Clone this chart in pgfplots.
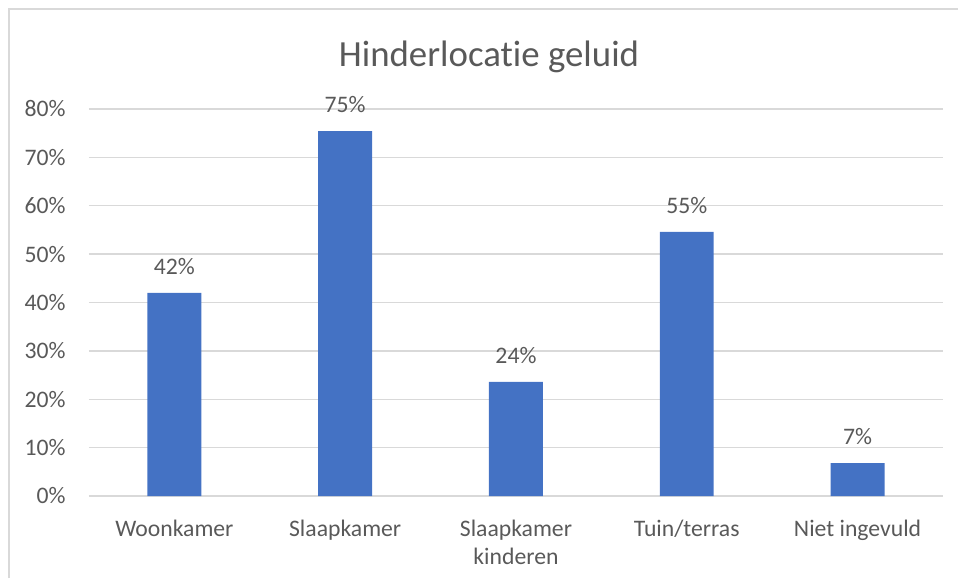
\documentclass[border=0pt]{standalone}
\usepackage{pgfplots}
\pgfplotsset{compat=1.18}
\usepackage{fontspec}
\setmainfont{Carlito}[Ligatures={NoCommon,NoDiscretionary}]
\definecolor{txtc}{HTML}{595959}
\definecolor{gridc}{HTML}{D9D9D9}
\definecolor{barc}{HTML}{4472C4}
\begin{document}
\begin{tikzpicture}
\begin{axis}[
  at={(0,0)}, anchor=south west,
  scale only axis,
  width=324.5pt, height=147.1pt,
  xmin=-0.5, xmax=4.5, ymin=0, ymax=80,
  ybar, bar width=20.5pt,
  xtick=data,
  xticklabels={Woonkamer, Slaapkamer, {Slaapkamer\\kinderen}, Tuin/terras, Niet ingevuld},
  ytick={0,10,...,80},
  yticklabel={\pgfmathprintnumber{\tick}\%},
  /pgf/number format/assume math mode=true,
  major tick length=0pt,
  axis line style={draw=none},
  xmajorgrids=false, ymajorgrids=true,
  major grid style={draw=gridc, line width=0.55pt},
  tick label style={font=\fontsize{9}{10.6}\selectfont, text=txtc},
  xticklabel style={align=center, anchor=north, yshift=-5.6pt},
  yticklabel style={anchor=east, xshift=-5.4pt},
  nodes near coords={\pgfmathprintnumber[fixed,precision=0]{\pgfplotspointmeta}\%},
  every node near coord/.append style={font=\fontsize{9}{10.6}\selectfont, text=txtc, anchor=south, yshift=3.4pt},
]
\addplot[fill=barc, draw=none] coordinates {(0,42) (1,75.4) (2,23.6) (3,54.6) (4,6.8)};
\end{axis}
\node[anchor=base, text=txtc, font=\fontsize{14}{16}\selectfont, inner sep=0pt] at (152pt,163.2pt) {Hinderlocatie geluid};
\draw[gridc, line width=0.8pt] (-30.4pt,-31.16pt) -- (-30.4pt,185.06pt) -- (330.22pt,185.06pt);
\pgfresetboundingbox
\path[use as bounding box] (-33.82pt,-31.16pt) rectangle (330.22pt,188.48pt);
\end{tikzpicture}
\end{document}
